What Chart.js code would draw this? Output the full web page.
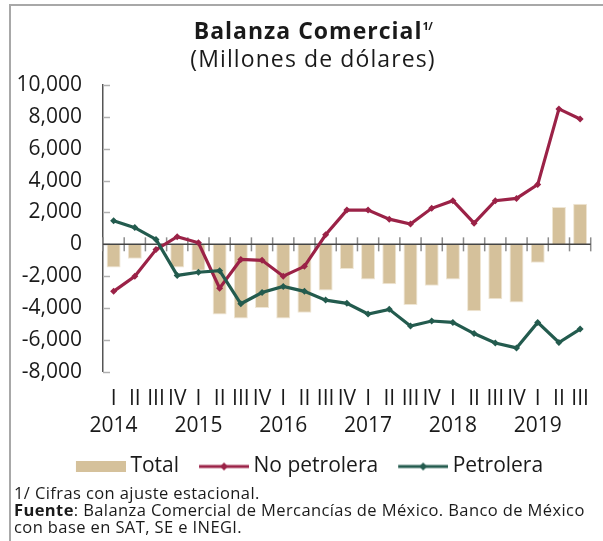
<!DOCTYPE html>
<html><head><meta charset="utf-8">
<script src="https://cdn.jsdelivr.net/npm/chart.js@4.4.1/dist/chart.umd.min.js"></script>
<style>
html,body{margin:0;padding:0;background:#fff;}
#wrap{position:relative;width:603px;height:541px;overflow:hidden;font-family:'Open Sans',sans-serif;color:#1a1a1a;}
#frame{position:absolute;left:9px;top:4px;width:600px;height:540px;border-left:2px solid #a8a8a8;border-top:2px solid #a8a8a8;}
#title{position:absolute;left:0;width:626px;top:15px;text-align:center;font-weight:700;font-size:23px;line-height:30px;letter-spacing:1px;white-space:nowrap;}
#title sup{font-size:11px;vertical-align:9px;line-height:0;letter-spacing:-0.5px;}
#subtitle{position:absolute;left:0;width:626px;top:43px;text-align:center;font-size:23px;line-height:30px;letter-spacing:1.1px;white-space:nowrap;}
#cv{position:absolute;left:0;top:0;}
#notes{position:absolute;left:14px;top:484px;font-size:16.5px;line-height:17px;letter-spacing:0.4px;white-space:nowrap;}
</style>
</head><body>
<div id="wrap">
  <div id="frame"></div>
  <canvas id="cv" width="603" height="487"></canvas>
  <div id="title">Balanza Comercial<sup>1/</sup></div>
  <div id="subtitle">(Millones de dólares)</div>
  <div id="notes">1/ Cifras con ajuste estacional.<br><b>Fuente</b>: Balanza Comercial de Mercancías de México. Banco de México<br>con base en SAT, SE e INEGI.</div>
</div>
<script>
const quarters = ['I','II','III','IV','I','II','III','IV','I','II','III','IV','I','II','III','IV','I','II','III','IV','I','II','III'];
const years = ['2014','','','','2015','','','','2016','','','','2017','','','','2018','','','','2019','',''];
const total = [-1450,-900,-50,-1450,-1650,-4400,-4650,-4000,-4650,-4300,-2900,-1550,-2200,-2500,-3800,-2600,-2200,-4200,-3450,-3650,-1150,2350,2550];
const noPetrolera = [-2950,-2000,-330,480,100,-2750,-950,-1000,-2000,-1380,600,2150,2150,1580,1270,2260,2740,1330,2740,2880,3750,8500,7870];
const petrolera = [1480,1050,310,-1950,-1750,-1650,-3730,-3020,-2640,-2950,-3500,-3700,-4370,-4080,-5130,-4810,-4900,-5600,-6190,-6500,-4900,-6160,-5320];
const yMin = -8000, yMax = 10000, yStep = 2000;

const TAN = '#D5C19B', RED = '#9B2247', GREEN = '#235B4E';
const FONT = "'Open Sans', sans-serif";

// legend icons: 74px wide canvas, 24px transparent left margin, 50px visible symbol
function lineIcon(color){
  const c = document.createElement('canvas'); c.width = 74; c.height = 12;
  const g = c.getContext('2d');
  g.strokeStyle = color; g.lineWidth = 3;
  g.beginPath(); g.moveTo(24,6); g.lineTo(74,6); g.stroke();
  g.fillStyle = color; g.beginPath();
  g.moveTo(49,2); g.lineTo(53,6); g.lineTo(49,10); g.lineTo(45,6); g.closePath(); g.fill();
  return c;
}
function boxIcon(color){
  const c = document.createElement('canvas'); c.width = 74; c.height = 11;
  const g = c.getContext('2d'); g.fillStyle = color; g.fillRect(24,0,50,11);
  return c;
}

const deco = {
  id: 'deco',
  beforeDatasetsDraw(chart){
    const {ctx, chartArea:a, scales:{y}} = chart;
    ctx.save();
    ctx.strokeStyle = '#b0b0b0'; ctx.lineWidth = 1.5;
    y.ticks.forEach(t => {
      const py = Math.round(y.getPixelForValue(t.value)) + 0.5;
      ctx.beginPath(); ctx.moveTo(a.left, py); ctx.lineTo(a.left + 7, py); ctx.stroke();
    });
    ctx.restore();
  },
  afterDatasetDraw(chart, args){
    if (args.index !== 0) return;
    const {ctx, chartArea:a, scales:{x, y}} = chart;
    const y0 = y.getPixelForValue(0);
    ctx.save();
    ctx.strokeStyle = '#8c8c8c'; ctx.lineWidth = 1.5;
    const n = x.ticks.length;
    const step = x.getPixelForValue(1) - x.getPixelForValue(0);
    for (let i = 0; i <= n; i++) {
      const px = i === n ? a.right : (x.getPixelForValue(i) - step / 2);
      ctx.beginPath(); ctx.moveTo(px, y0 - 7); ctx.lineTo(px, y0 + 7); ctx.stroke();
    }
    ctx.strokeStyle = '#444'; ctx.lineWidth = 1.5;
    ctx.beginPath(); ctx.moveTo(a.left, y0); ctx.lineTo(a.right, y0); ctx.stroke();
    ctx.restore();
  }
};

new Chart(document.getElementById('cv'), {
  type: 'bar',
  data: {
    labels: quarters.map((q, i) => [q, years[i]]),
    datasets: [
      { type:'bar', label:'Total', data: total, backgroundColor: TAN, borderColor:'#EFE6D4', borderWidth:1,
        barPercentage:0.66, categoryPercentage:1.0, order:3 },
      { type:'line', label:'No petrolera', data: noPetrolera, borderColor: RED, backgroundColor: RED, borderWidth:3.2,
        pointStyle:'rectRot', pointRadius:3.5, pointBorderWidth:0, tension:0, order:2 },
      { type:'line', label:'Petrolera', data: petrolera, borderColor: GREEN, backgroundColor: GREEN, borderWidth:3.2,
        pointStyle:'rectRot', pointRadius:3.5, pointBorderWidth:0, tension:0, order:1 }
    ]
  },
  options: {
    responsive:false, animation:false, devicePixelRatio:1,
    layout:{ padding:{ top:85, left:0, right:2, bottom:0 } },
    plugins:{
      tooltip:{enabled:false},
      title:{display:false},
      legend:{
        position:'bottom',
        labels:{
          usePointStyle:true, pointStyleWidth:62, padding:2,
          color:'#1a1a1a', font:{family:FONT, size:21},
          generateLabels: () => [
            {text:'Total', pointStyle: boxIcon(TAN), fillStyle:TAN, strokeStyle:TAN, lineWidth:0, hidden:false, datasetIndex:0, fontColor:'#1a1a1a'},
            {text:'No petrolera', pointStyle: lineIcon(RED), fillStyle:RED, strokeStyle:RED, lineWidth:0, hidden:false, datasetIndex:1, fontColor:'#1a1a1a'},
            {text:'Petrolera', pointStyle: lineIcon(GREEN), fillStyle:GREEN, strokeStyle:GREEN, lineWidth:0, hidden:false, datasetIndex:2, fontColor:'#1a1a1a'}
          ]
        }
      }
    },
    scales:{
      x:{
        grid:{display:false, drawTicks:false},
        border:{display:false},
        ticks:{autoSkip:false, maxRotation:0, minRotation:0, padding:14, color:'#1a1a1a',
               font:{family:FONT, size:21, lineHeight:1.29}}
      },
      y:{
        min:yMin, max:yMax,
        grid:{display:false, drawTicks:false},
        border:{display:true, color:'#555', width:1.5},
        ticks:{stepSize:yStep, padding:21, color:'#1a1a1a', font:{family:FONT, size:21},
               callback: v => v.toLocaleString('en-US')},
        afterFit(s){ s.width = 103; }
      }
    }
  },
  plugins:[deco]
});
</script>
</body></html>
